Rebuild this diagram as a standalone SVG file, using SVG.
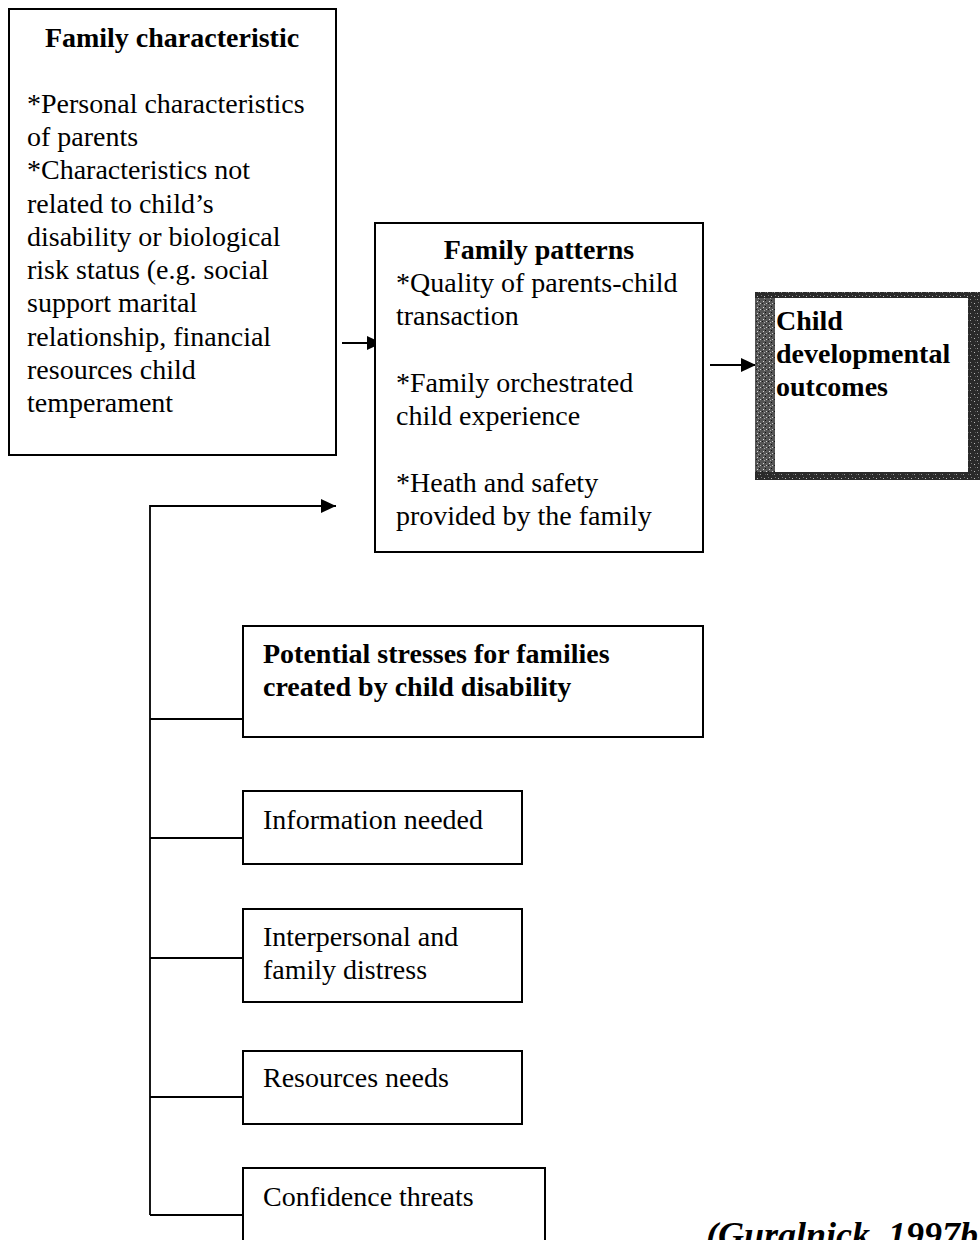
<svg xmlns="http://www.w3.org/2000/svg" width="980" height="1240" viewBox="0 0 980 1240">
  <style>
    .box { fill: #ffffff; stroke: #000000; stroke-width: 2; }
    .t { font-family: "Liberation Serif", "Times New Roman", serif; font-size: 28px; fill: #000000; }
    .b { font-weight: bold; }
    .c { text-anchor: middle; }
    .conn { fill: none; stroke: #000000; stroke-width: 1.8; }
    .cite { font-family: "Liberation Serif", "Times New Roman", serif; font-size: 36px; font-weight: bold; font-style: italic; fill: #000000; }
  </style>
  <defs>
    <marker id="arrow" markerUnits="userSpaceOnUse" markerWidth="16" markerHeight="14" refX="15" refY="7" orient="auto">
      <path d="M0,0 L15,7 L0,14 z" fill="#000000"/>
    </marker>
    <pattern id="speckle" width="7" height="7" patternUnits="userSpaceOnUse">
      <rect width="7" height="7" fill="#2a2a2a"/>
      <rect x="1" y="2" width="1" height="1" fill="#bbbbbb"/>
      <rect x="4" y="5" width="1" height="1" fill="#999999"/>
      <rect x="5" y="1" width="1" height="1" fill="#777777"/>
      <rect x="2" y="5" width="1" height="1" fill="#555555"/>
    </pattern>
    <pattern id="speckleLight" width="6" height="6" patternUnits="userSpaceOnUse">
      <rect width="6" height="6" fill="#555555"/>
      <rect x="1" y="1" width="1" height="1" fill="#dddddd"/>
      <rect x="4" y="3" width="1" height="1" fill="#cccccc"/>
      <rect x="2" y="4" width="1" height="1" fill="#aaaaaa"/>
      <rect x="0" y="3" width="1" height="1" fill="#1a1a1a"/>
      <rect x="3" y="0" width="1" height="1" fill="#111111"/>
    </pattern>
  </defs>

  <g id="connectors">
    <line class="conn" x1="342" y1="343" x2="382" y2="343" marker-end="url(#arrow)"/>
    <line class="conn" x1="710" y1="365" x2="756" y2="365" marker-end="url(#arrow)"/>
    <polyline class="conn" points="150,1215 150,506 336,506" marker-end="url(#arrow)"/>
    <line class="conn" x1="150" y1="719" x2="243" y2="719"/>
    <line class="conn" x1="150" y1="838" x2="243" y2="838"/>
    <line class="conn" x1="150" y1="958" x2="243" y2="958"/>
    <line class="conn" x1="150" y1="1097" x2="243" y2="1097"/>
    <line class="conn" x1="150" y1="1215" x2="243" y2="1215"/>
  </g>

  <g id="node-family-characteristic">
    <rect class="box" x="9" y="9" width="327" height="446"/>
    <text class="t b c" x="172" y="47">Family characteristic</text>
    <text class="t" x="27" y="113">*Personal characteristics</text>
    <text class="t" x="27" y="146">of parents</text>
    <text class="t" x="27" y="179">*Characteristics not</text>
    <text class="t" x="27" y="213">related to child’s</text>
    <text class="t" x="27" y="246">disability or biological</text>
    <text class="t" x="27" y="279">risk status (e.g. social</text>
    <text class="t" x="27" y="312">support marital</text>
    <text class="t" x="27" y="346">relationship, financial</text>
    <text class="t" x="27" y="379">resources child</text>
    <text class="t" x="27" y="412">temperament</text>
  </g>

  <g id="node-family-patterns">
    <rect class="box" x="375" y="223" width="328" height="329"/>
    <text class="t b c" x="539" y="259">Family patterns</text>
    <text class="t" x="396" y="292">*Quality of parents-child</text>
    <text class="t" x="396" y="325">transaction</text>
    <text class="t" x="396" y="392">*Family orchestrated</text>
    <text class="t" x="396" y="425">child experience</text>
    <text class="t" x="396" y="492">*Heath and safety</text>
    <text class="t" x="396" y="525">provided by the family</text>
  </g>

  <g id="node-child-outcomes">
    <rect x="755" y="292" width="225" height="188" fill="url(#speckle)"/>
    <rect x="755" y="298" width="20" height="174" fill="url(#speckleLight)"/>
    <rect x="775" y="298" width="193" height="174" fill="#ffffff"/>
    <text class="t b" x="776" y="330">Child</text>
    <text class="t b" x="776" y="363">developmental</text>
    <text class="t b" x="776" y="396">outcomes</text>
  </g>

  <g id="node-potential-stresses">
    <rect class="box" x="243" y="626" width="460" height="111"/>
    <text class="t b" x="263" y="663">Potential stresses for families</text>
    <text class="t b" x="263" y="696">created by child disability</text>
  </g>

  <g id="node-information-needed">
    <rect class="box" x="243" y="791" width="279" height="73"/>
    <text class="t" x="263" y="829">Information needed</text>
  </g>

  <g id="node-interpersonal">
    <rect class="box" x="243" y="909" width="279" height="93"/>
    <text class="t" x="263" y="946">Interpersonal and</text>
    <text class="t" x="263" y="979">family distress</text>
  </g>

  <g id="node-resources-needs">
    <rect class="box" x="243" y="1051" width="279" height="73"/>
    <text class="t" x="263" y="1087">Resources needs</text>
  </g>

  <g id="node-confidence-threats">
    <rect class="box" x="243" y="1168" width="302" height="100"/>
    <text class="t" x="263" y="1206">Confidence threats</text>
  </g>

  <g id="citation">
    <text class="cite" x="706" y="1247">(Guralnick, 1997b</text>
  </g>
</svg>
